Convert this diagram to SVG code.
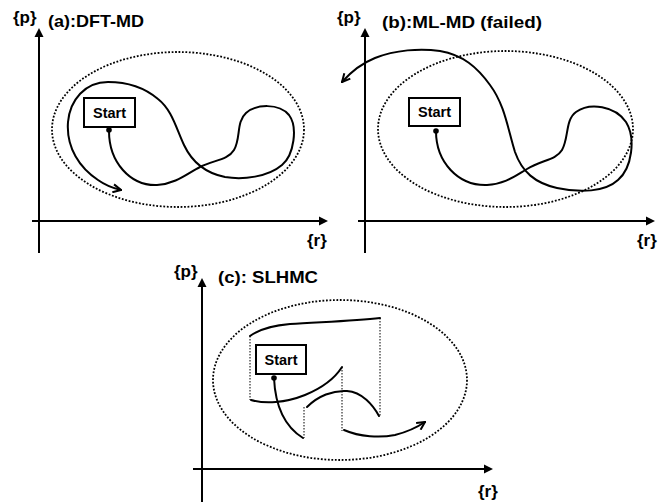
<svg xmlns="http://www.w3.org/2000/svg" width="671" height="502" viewBox="0 0 671 502">
<style>
.ax{stroke:#000;stroke-width:2;fill:none}
.tip{fill:#000;stroke:none}
.el{fill:none;stroke:#000;stroke-width:1.8;stroke-dasharray:1.8 1.7}
.cv{fill:none;stroke:#000;stroke-width:2;stroke-linecap:round}
.dv{fill:none;stroke:#000;stroke-width:1;stroke-dasharray:1.5 1.5}
.box{fill:#fff;stroke:#000;stroke-width:2}
.lb{font-family:"Liberation Sans",Arial,sans-serif;font-weight:bold;fill:#000}
.t{font-size:17px}
.s{font-size:14.5px;text-anchor:middle}
</style>
<defs>
<marker id="oa" viewBox="0 0 10 10" refX="9" refY="5" markerWidth="10" markerHeight="10" markerUnits="userSpaceOnUse" orient="auto">
<path d="M1,1 L9,5 L1,9" fill="none" stroke="#000" stroke-width="2" stroke-linejoin="miter"/>
</marker>
</defs>

<g id="panel-a-axes">
<line class="ax" x1="39" y1="36" x2="39" y2="253"/>
<polygon class="tip" points="39,28 34.5,37 43.5,37"/>
<line class="ax" x1="32" y1="221" x2="320" y2="221"/>
<polygon class="tip" points="328,221 319,216.5 319,225.5"/>
<text class="lb t" x="13" y="23">{p}</text>
<text class="lb t" x="48" y="27" textLength="96" lengthAdjust="spacingAndGlyphs">(a):DFT-MD</text>
<text class="lb t" x="307" y="246">{r}</text>
<ellipse class="el" cx="178" cy="129.5" rx="126" ry="77.5"/>
</g>

<g id="panel-b-axes">
<line class="ax" x1="365" y1="36" x2="365" y2="253"/>
<polygon class="tip" points="365,28 360.5,37 369.5,37"/>
<line class="ax" x1="358" y1="221" x2="647" y2="221"/>
<polygon class="tip" points="655,221 646,216.5 646,225.5"/>
<text class="lb t" x="337" y="23">{p}</text>
<text class="lb t" x="382" y="28" textLength="160" lengthAdjust="spacingAndGlyphs">(b):ML-MD (failed)</text>
<text class="lb t" x="637" y="246">{r}</text>
<ellipse class="el" cx="505.5" cy="129" rx="127.5" ry="78"/>
</g>

<g id="panel-c-axes">
<line class="ax" x1="202" y1="286" x2="202" y2="502"/>
<polygon class="tip" points="202,278 197.5,287 206.5,287"/>
<line class="ax" x1="193" y1="469" x2="485" y2="469"/>
<polygon class="tip" points="493,469 484,464.5 484,473.5"/>
<text class="lb t" x="174" y="277">{p}</text>
<text class="lb t" x="218" y="283" textLength="100" lengthAdjust="spacingAndGlyphs">(c): SLHMC</text>
<text class="lb t" x="478" y="497">{r}</text>
<ellipse class="el" cx="340" cy="380" rx="127" ry="80"/>
</g>

<g id="connectors">
<path class="cv" marker-end="url(#oa)" d="M109,131 C109,162 130,186 157,185 C176,184 188,173 200,167 C214,160 228,160 234,150 C241,138 236,122 246,113 C256,104 279,103 289,115 C298,127 294,155 282,165 C268,177 243,180 225,177 C205,173 192,162 184,145 C176,128 172,110 158,99 C145,88 128,82 108,82 C85,82 70,100 68,122 C66,148 80,168 98,180 C105,185 112,188 121,190"/>
<path class="cv" marker-end="url(#oa)" d="M436,131 C436,162 458,186 487,185 C505,184 515,176 527,169 C542,160 556,160 562,150 C569,138 565,120 576,112 C590,102 615,106 626,122 C636,138 632,168 618,180 C605,192 580,193 557,188 C535,183 522,172 515,152 C508,130 505,105 490,85 C477,67 463,55 440,51 C420,48 395,50 375,58 C360,64 350,73 342,82"/>
<path class="cv" d="M250,336 C258,330 268,326 290,324 C320,322 355,321 380,318"/>
<path class="cv" d="M251,400 C265,404 285,403 305,395 C322,388 335,378 342,367"/>
<path class="cv" d="M274,378 C275,400 282,425 303,438"/>
<path class="cv" d="M307,407 C318,396 333,390 347,391 C362,392 373,405 379,416"/>
<path class="cv" marker-end="url(#oa)" d="M344,430 C360,437 380,438 395,435 C407,432 416,428 425,422"/>
<line class="dv" x1="250" y1="336" x2="250" y2="400"/>
<line class="dv" x1="380" y1="318" x2="380" y2="417"/>
<line class="dv" x1="342" y1="367" x2="342" y2="431"/>
<line class="dv" x1="304" y1="407" x2="304" y2="438"/>
</g>

<g id="start-a">
<rect class="box" x="84" y="98" width="51" height="29"/>
<text class="lb s" x="109.5" y="117.5">Start</text>
<circle cx="109" cy="130" r="2.8" fill="#000"/>
</g>
<g id="start-b">
<rect class="box" x="409" y="98" width="51" height="28"/>
<text class="lb s" x="434.5" y="117">Start</text>
<circle cx="436" cy="131" r="2.8" fill="#000"/>
</g>
<g id="start-c">
<rect class="box" x="256" y="345" width="50" height="29"/>
<text class="lb s" x="281" y="364.5">Start</text>
<circle cx="274" cy="378" r="2.8" fill="#000"/>
</g>
</svg>
